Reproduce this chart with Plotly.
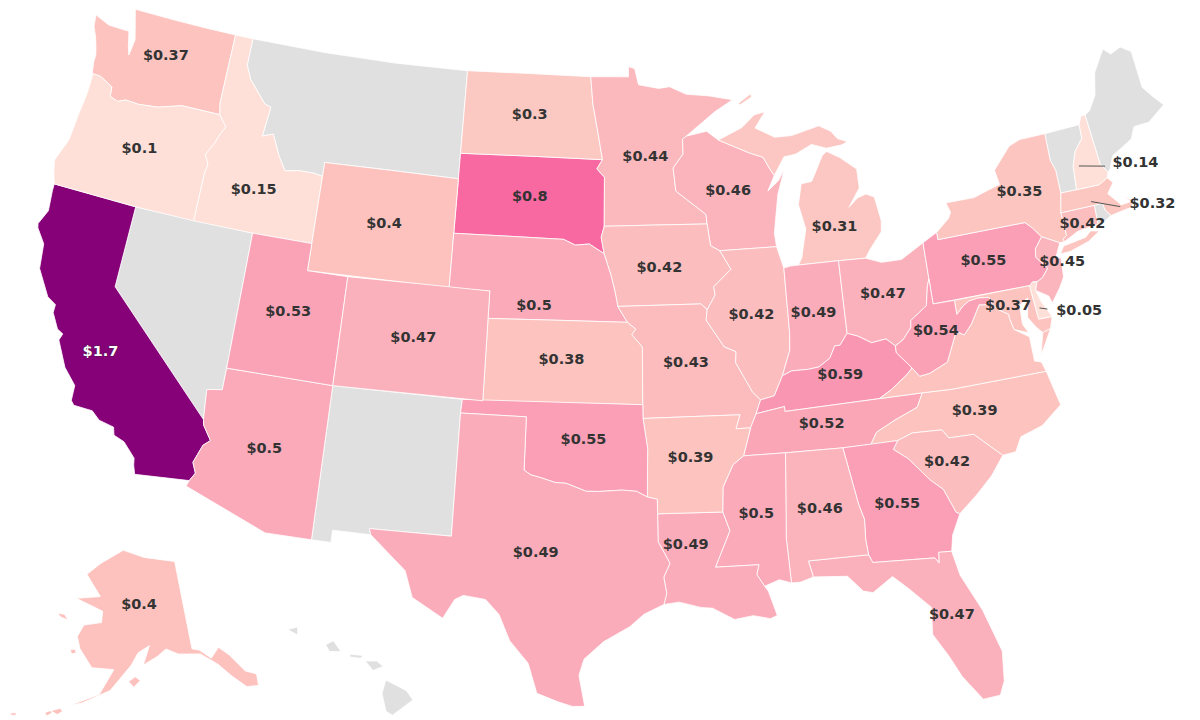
import plotly.graph_objects as go

states = ["CA","SD","WA","OR","ID","WY","ND","MN","WI","MI","IA","NE","KS","MO","IL","IN","OH","KY","TN","NC","SC","GA","FL","AL","MS","LA","AR","OK","TX","AZ","UT","CO","PA","NY","MD","VA","WV","DE","NJ","CT","MA","NH","AK"]
values = [1.7,0.8,0.37,0.1,0.15,0.4,0.3,0.44,0.46,0.31,0.42,0.5,0.38,0.43,0.42,0.49,0.47,0.59,0.52,0.39,0.42,0.55,0.47,0.46,0.5,0.49,0.39,0.55,0.49,0.5,0.53,0.47,0.55,0.35,0.37,0.37,0.54,0.05,0.45,0.42,0.32,0.14,0.4]
unlabelled = ["VA"]
no_data = ["MT","NV","NM","VT","ME","RI","HI"]

# state outlines, longitude / latitude
N = None
shapes = {
"WA":[(-124.73,48.38),(-123.9,48.16),(-123.1,48.15),(-122.75,48.15),(-122.55,47.6),(-122.4,47.3),(-122.3,47.9),(-122.5,48.4),(-122.75,49),(-120.5,49),(-118.5,49),(-117.03,49),(-117.04,46.42),(-116.92,46),(-118.98,46),(-119.3,45.93),(-120.2,45.73),(-121.2,45.65),(-121.9,45.68),(-122.3,45.55),(-122.75,45.65),(-122.8,46),(-123.2,46.15),(-123.55,46.26),(-124,46.27),(-124.1,46.7),(-124.1,46.95),(-124.2,47.2),(-124.4,47.6),(-124.65,47.95)],
"OR":[(-124,46.27),(-123.55,46.26),(-123.2,46.15),(-122.8,46),(-122.75,45.65),(-122.3,45.55),(-121.9,45.68),(-121.2,45.65),(-120.2,45.73),(-119.3,45.93),(-118.98,46),(-116.92,46),(-116.46,45.6),(-116.67,45.32),(-116.85,44.95),(-117.2,44.45),(-117.03,44.25),(-116.95,44.1),(-117.03,43.8),(-117.03,42),(-120,42),(-124.21,42),(-124.4,42.4),(-124.55,42.84),(-124.15,43.7),(-124.06,44.7),(-123.95,45.5),(-123.95,46.2)],
"CA":[(-124.21,42),(-120,42),(-120,39),(-114.63,35),(-114.57,34.8),(-114.14,34.3),(-114.43,34.08),(-114.72,33.4),(-114.52,33.03),(-114.72,32.72),(-117.12,32.53),(-117.25,32.85),(-117.3,33.1),(-117.9,33.6),(-118.4,33.75),(-118.5,34.03),(-119.2,34.15),(-119.6,34.42),(-120.47,34.45),(-120.63,34.6),(-120.65,35.15),(-121.3,35.7),(-121.9,36.6),(-121.8,36.85),(-122.1,36.97),(-122.5,37.5),(-122.5,37.8),(-122.95,38),(-123.7,38.9),(-123.85,39.8),(-124.35,40.3),(-124.4,40.45),(-124.1,41),(-124.2,41.75)],
"NV":[(-120,42),(-114.04,42),(-114.04,37),(-114.05,36.2),(-114.75,36.1),(-114.63,35),(-120,39)],
"ID":[(-117.03,49),(-116.05,49),(-116.05,48),(-115.7,47.5),(-114.7,46.73),(-114.35,46.65),(-114.5,45.55),(-113.95,45.7),(-113.45,44.95),(-113,44.45),(-112.3,44.55),(-111.5,44.55),(-111.05,44.48),(-111.05,42),(-114.04,42),(-117.03,42),(-117.03,43.8),(-116.95,44.1),(-117.03,44.25),(-117.2,44.45),(-116.85,44.95),(-116.67,45.32),(-116.46,45.6),(-116.92,46),(-117.04,46.42)],
"MT":[(-116.05,49),(-112,49),(-108,49),(-104.05,49),(-104.05,45),(-111.05,45),(-111.05,44.48),(-111.5,44.55),(-112.3,44.55),(-113,44.45),(-113.45,44.95),(-113.95,45.7),(-114.5,45.55),(-114.35,46.65),(-114.7,46.73),(-115.7,47.5),(-116.05,48)],
"WY":[(-111.05,45),(-104.05,45),(-104.05,41),(-111.05,41)],
"UT":[(-114.04,42),(-111.05,42),(-111.05,41),(-109.05,41),(-109.05,37),(-114.04,37)],
"CO":[(-109.05,41),(-102.05,41),(-102.05,37),(-109.05,37)],
"AZ":[(-114.04,37),(-109.05,37),(-109.05,31.33),(-111.07,31.33),(-114.81,32.5),(-114.72,32.72),(-114.52,33.03),(-114.72,33.4),(-114.43,34.08),(-114.14,34.3),(-114.57,34.8),(-114.63,35),(-114.75,36.1),(-114.05,36.2)],
"NM":[(-109.05,37),(-103,37),(-103.04,36.5),(-103.04,32),(-106.62,32),(-106.53,31.78),(-108.2,31.78),(-108.2,31.33),(-109.05,31.33)],
"TX":[(-103.04,36.5),(-100,36.5),(-100,34.56),(-99.7,34.4),(-99.2,34.3),(-98.6,34.15),(-98.1,34.13),(-97.2,33.85),(-96.6,33.85),(-95.6,33.9),(-94.95,33.85),(-94.48,33.64),(-94.04,33.55),(-94.04,33.02),(-94.04,32),(-93.55,31.2),(-93.83,30.7),(-93.72,30.1),(-93.85,29.7),(-94.7,29.35),(-95.3,28.9),(-96.4,28.35),(-97.2,27.7),(-97.4,27.1),(-97.15,25.96),(-97.65,25.95),(-98.2,26.1),(-99.1,26.4),(-99.5,27.5),(-100.3,28.3),(-100.8,29.25),(-101.4,29.77),(-102.35,29.87),(-102.7,29.7),(-103.15,28.98),(-104.5,29.65),(-104.9,30.6),(-106.53,31.78),(-106.62,32),(-103.04,32)],
"OK":[(-103,37),(-94.62,37),(-94.62,36.5),(-94.43,35.4),(-94.48,33.64),(-94.95,33.85),(-95.6,33.9),(-96.6,33.85),(-97.2,33.85),(-98.1,34.13),(-98.6,34.15),(-99.2,34.3),(-99.7,34.4),(-100,34.56),(-100,36.5),(-103.04,36.5)],
"KS":[(-102.05,40),(-95.31,40),(-94.9,39.75),(-95.1,39.55),(-94.6,39.1),(-94.62,37),(-102.05,37)],
"NE":[(-104.05,43),(-98.5,43),(-97.9,42.8),(-97.2,42.85),(-96.45,42.5),(-96.1,41.7),(-95.9,41.1),(-95.77,40.58),(-95.31,40),(-102.05,40),(-102.05,41),(-104.05,41)],
"SD":[(-104.05,45.94),(-96.56,45.94),(-96.85,45.6),(-96.45,45.3),(-96.45,43.5),(-96.6,43.1),(-96.45,42.5),(-97.2,42.85),(-97.9,42.8),(-98.5,43),(-104.05,43)],
"ND":[(-104.05,49),(-97.23,49),(-97.1,48),(-96.8,46.9),(-96.56,45.94),(-104.05,45.94)],
"MN":[(-97.23,49),(-95.15,49),(-95.15,49.38),(-94.8,49.3),(-94.6,48.7),(-93.5,48.55),(-92.9,48.6),(-92,48.3),(-90.8,48.2),(-89.5,48),(-90.5,47.6),(-92.1,46.75),(-92.3,46.65),(-92.3,46.1),(-92.85,45.6),(-92.75,44.75),(-91.25,43.85),(-91.22,43.5),(-96.45,43.5),(-96.45,45.3),(-96.85,45.6),(-96.56,45.94),(-96.8,46.9),(-97.1,48)],
"IA":[(-96.45,43.5),(-91.22,43.5),(-91.1,42.7),(-90.65,42.5),(-90.15,41.8),(-91.05,41.2),(-91,40.9),(-91.42,40.38),(-91.72,40.6),(-95.77,40.58),(-95.9,41.1),(-96.1,41.7),(-96.45,42.5),(-96.6,43.1)],
"MO":[(-95.77,40.58),(-91.72,40.6),(-91.42,40.38),(-91.5,40),(-90.7,39),(-90.15,38.8),(-90.2,38.4),(-89.5,37.3),(-89.15,36.99),(-89.4,36.5),(-89.7,36),(-90.37,36),(-90.15,36.5),(-94.62,36.5),(-94.62,37),(-94.6,39.1),(-95.1,39.55),(-94.9,39.75),(-95.31,40)],
"AR":[(-94.62,36.5),(-90.15,36.5),(-90.37,36),(-89.7,36),(-90.1,35),(-90.6,34.7),(-91.1,33.9),(-91.17,33),(-94.04,33.02),(-94.04,33.55),(-94.48,33.64),(-94.43,35.4)],
"LA":[(-94.04,33.02),(-91.17,33),(-90.9,32.3),(-91.6,31),(-89.73,31),(-89.85,30.65),(-89.55,30.2),(-89.4,30),(-89.3,29.7),(-89.1,29.1),(-89.4,29),(-90.1,29.15),(-90.9,29.05),(-91.8,29.5),(-92.3,29.55),(-93.2,29.77),(-93.85,29.7),(-93.72,30.1),(-93.83,30.7),(-93.55,31.2),(-94.04,32)],
"MS":[(-90.1,35),(-88.2,35),(-88.47,31.9),(-88.4,30.25),(-88.9,30.4),(-89.55,30.2),(-89.85,30.65),(-89.73,31),(-91.6,31),(-90.9,32.3),(-91.17,33),(-91.1,33.9),(-90.6,34.7)],
"AL":[(-88.2,35),(-85.6,34.98),(-85.18,32.87),(-85,32.3),(-85.05,31.55),(-85,31),(-87.6,31),(-87.45,30.4),(-88,30.25),(-88.4,30.25),(-88.47,31.9)],
"TN":[(-90.1,35),(-88.2,35),(-85.6,34.98),(-84.32,34.99),(-84,35.4),(-83.1,35.75),(-82,36.1),(-81.68,36.59),(-83.68,36.6),(-88.07,36.5),(-88.07,36.68),(-89.4,36.5),(-89.7,36)],
"KY":[(-89.4,36.5),(-88.07,36.68),(-88.07,36.5),(-83.68,36.6),(-83.1,36.85),(-82.3,37.3),(-81.97,37.54),(-82.6,38.17),(-82.6,38.42),(-83,38.72),(-83.7,38.65),(-84.3,38.95),(-84.8,39.1),(-85.2,38.7),(-85.45,38.7),(-85.75,38.27),(-86.3,38),(-86.8,37.95),(-87.6,37.95),(-88.05,37.8),(-88.5,37.1),(-89.15,36.99)],
"IL":[(-90.65,42.5),(-87.8,42.5),(-87.53,41.7),(-87.53,39.35),(-87.6,38.7),(-88.05,37.8),(-88.5,37.1),(-89.15,36.99),(-89.5,37.3),(-90.2,38.4),(-90.15,38.8),(-90.7,39),(-91.5,40),(-91.42,40.38),(-91,40.9),(-91.05,41.2),(-90.15,41.8)],
"IN":[(-87.53,41.7),(-87.2,41.75),(-86.8,41.76),(-84.8,41.76),(-84.8,39.1),(-85.2,38.7),(-85.45,38.7),(-85.75,38.27),(-86.3,38),(-86.8,37.95),(-87.6,37.95),(-88.05,37.8),(-87.6,38.7),(-87.53,39.35)],
"OH":[(-84.8,41.76),(-83.45,41.73),(-82.7,41.5),(-81.7,41.5),(-80.52,41.98),(-80.52,40.64),(-80.65,40.4),(-80.85,39.7),(-81.7,39.25),(-81.75,39),(-82.2,38.6),(-82.6,38.42),(-83,38.72),(-83.7,38.65),(-84.3,38.95),(-84.8,39.1)],
"WV":[(-82.6,38.42),(-82.2,38.6),(-81.75,39),(-81.7,39.25),(-80.85,39.7),(-80.65,40.4),(-80.52,40.64),(-80.52,39.72),(-79.48,39.72),(-79.48,39.2),(-79.1,39.47),(-78.8,39.6),(-78.35,39.65),(-77.83,39.6),(-77.72,39.32),(-78.35,39.4),(-78.87,38.77),(-79.3,38.42),(-79.65,38.6),(-80.3,37.55),(-81.2,37.25),(-81.68,37.2),(-81.97,37.54),(-82.6,38.17)],
"VA":[(-83.68,36.6),(-81.68,36.59),(-80.3,36.55),(-75.87,36.55),(-76,36.92),(-76.3,37),(-76.3,37.9),(-76.95,38.28),(-77.05,38.7),(-77.05,38.85),(-77.5,39.1),(-77.72,39.32),(-78.35,39.4),(-78.87,38.77),(-79.3,38.42),(-79.65,38.6),(-80.3,37.55),(-81.2,37.25),(-81.68,37.2),(-81.97,37.54),(-82.3,37.3),(-83.1,36.85),N,(-75.95,37.15),(-75.65,37.95),(-75.25,38.03)],
"MD":[(-79.48,39.72),(-75.79,39.72),(-75.7,38.46),(-75.05,38.45),(-75.25,38.03),(-75.65,37.95),(-75.9,38.2),(-76.2,38.6),(-76,39.3),(-76.45,39.1),(-76.5,38.4),(-76.3,38.05),(-76.95,38.28),(-77.05,38.7),(-77.05,38.85),(-77.5,39.1),(-77.72,39.32),(-77.83,39.6),(-78.35,39.65),(-78.8,39.6),(-79.1,39.47),(-79.48,39.2)],
"DE":[(-75.79,39.72),(-75.6,39.83),(-75.4,39.8),(-75.55,39.5),(-75.4,39.05),(-75.05,38.45),(-75.7,38.46)],
"PA":[(-80.52,41.98),(-79.76,42.27),(-79.76,42),(-75.35,42),(-75.05,41.75),(-74.7,41.36),(-75.13,40.98),(-75.2,40.68),(-74.75,40.2),(-75.1,39.9),(-75.4,39.8),(-75.6,39.83),(-75.79,39.72),(-80.52,39.72)],
"NJ":[(-74.7,41.36),(-73.9,41),(-74.25,40.5),(-74,40.45),(-74.1,39.75),(-74.4,39.4),(-74.9,38.93),(-75,39.2),(-75.55,39.5),(-75.4,39.8),(-75.1,39.9),(-74.75,40.2),(-75.2,40.68),(-75.13,40.98)],
"NY":[(-79.76,42.27),(-79.05,42.7),(-78.9,42.9),(-79.05,43.27),(-77.6,43.27),(-76.5,43.5),(-76.2,43.55),(-76.3,44.1),(-75.3,44.85),(-74.7,45),(-73.35,45),(-73.4,44),(-73.25,43.6),(-73.27,42.75),(-73.5,42.05),(-73.49,41.2),(-73.7,41.1),(-73.65,41),(-73.9,41),(-74.7,41.36),(-75.05,41.75),(-75.35,42),(-79.76,42),N,(-74,40.6),(-73.75,40.85),(-72.6,40.97),(-72.3,41.15),(-71.87,41.07),(-72.5,40.8),(-73.5,40.6)],
"CT":[(-73.5,42.05),(-71.8,42.02),(-71.85,41.32),(-72.9,41.25),(-73.65,41),(-73.7,41.1),(-73.49,41.2)],
"RI":[(-71.8,42.02),(-71.38,42.02),(-71.33,41.75),(-71.12,41.5),(-71.5,41.37),(-71.85,41.32)],
"MA":[(-73.5,42.05),(-73.27,42.75),(-72.46,42.73),(-71.3,42.7),(-70.82,42.87),(-70.6,42.65),(-71,42.3),(-70.65,41.95),(-70.5,41.78),(-70,41.8),(-70.25,42.07),(-69.95,41.85),(-70,41.6),(-70.65,41.55),(-71.12,41.5),(-71.33,41.75),(-71.38,42.02),(-71.8,42.02)],
"VT":[(-73.35,45),(-71.5,45.01),(-71.55,44.5),(-72.05,44.1),(-72.33,43.6),(-72.46,42.73),(-73.27,42.75),(-73.25,43.6),(-73.4,44)],
"NH":[(-71.5,45.01),(-71.3,45.3),(-71.08,45.3),(-70.98,43.4),(-70.7,43.07),(-70.82,42.87),(-71.3,42.7),(-72.46,42.73),(-72.33,43.6),(-72.05,44.1),(-71.55,44.5)],
"ME":[(-71.08,45.3),(-70.8,45.4),(-70.3,45.9),(-70,46.7),(-69.23,47.46),(-68.9,47.2),(-68.3,47.35),(-67.8,47.07),(-67.8,45.7),(-67.45,45.3),(-67,44.85),(-68,44.4),(-68.8,44.4),(-69.1,44),(-69.8,43.75),(-70.25,43.6),(-70.6,43.1),(-70.7,43.07),(-70.98,43.4)],
"MI":[(-86.8,41.76),(-84.8,41.76),(-83.45,41.73),(-83.15,42.05),(-82.5,42.6),(-82.42,43),(-82.6,43.9),(-83,44.05),(-83.45,43.95),(-83.95,43.65),(-83.3,44.3),(-83.3,45),(-84.1,45.5),(-84.75,45.78),(-85,45.65),(-85.5,45),(-85.7,44.75),(-86.25,44.7),(-86.5,43.95),(-86.25,43.05),(-86.6,42),N,(-90.4,46.55),(-89.1,46.95),(-88.4,47.38),(-87.8,47.47),(-88.4,46.9),(-87.4,46.5),(-86.5,46.5),(-85,46.75),(-84.4,46.5),(-84.1,46.2),(-83.6,46.05),(-83.9,45.95),(-84.75,45.9),(-85.5,46.1),(-86.4,45.8),(-87,45.75),(-87.6,45.1),(-87.8,45.35),(-88.1,45.8),(-88.8,46),N,(-89.2,47.85),(-88.5,48.17),(-88.45,48.05),(-89.1,47.8)],
"WI":[(-92.1,46.75),(-91,46.9),(-90.4,46.55),(-88.8,46),(-88.1,45.8),(-87.8,45.35),(-87.6,45.1),(-88,44.55),(-87.4,44.9),(-87.05,45.3),(-87.5,44.4),(-87.85,43),(-87.8,42.5),(-90.65,42.5),(-91.1,42.7),(-91.22,43.5),(-91.25,43.85),(-92.75,44.75),(-92.85,45.6),(-92.3,46.1),(-92.3,46.65)],
"FL":[(-87.6,31),(-85,31),(-84.86,30.7),(-82.2,30.57),(-82.05,30.36),(-82,30.75),(-81.45,30.72),(-81.25,29.8),(-80.55,28.4),(-80.03,26.8),(-80.15,25.7),(-80.4,25.2),(-81.1,25.15),(-81.8,26.1),(-82.2,26.9),(-82.75,27.8),(-82.65,28.8),(-83.5,29.6),(-84.1,30.1),(-85,29.6),(-85.4,29.7),(-86,30.3),(-87.45,30.4)],
"GA":[(-85.6,34.98),(-83.1,35),(-83.35,34.7),(-82.75,34.3),(-81.9,33.4),(-81.4,33),(-81,32.1),(-80.85,32.03),(-81.3,31.3),(-81.45,30.72),(-82,30.75),(-82.05,30.36),(-82.2,30.57),(-84.86,30.7),(-85,31),(-85.05,31.55),(-85,32.3),(-85.18,32.87)],
"SC":[(-83.1,35),(-82.4,35.2),(-81.05,35.15),(-80.8,34.82),(-79.67,34.8),(-78.55,33.86),(-79.2,33.2),(-80,32.6),(-80.85,32.03),(-81,32.1),(-81.4,33),(-81.9,33.4),(-82.75,34.3),(-83.35,34.7)],
"NC":[(-84.32,34.99),(-83.1,35),(-82.4,35.2),(-81.05,35.15),(-80.8,34.82),(-79.67,34.8),(-78.55,33.86),(-77.95,33.9),(-77.6,34.4),(-76.55,34.65),(-75.55,35.25),(-75.87,36.55),(-80.3,36.55),(-81.68,36.59),(-82,36.1),(-83.1,35.75),(-84,35.4)],
"AK":[(-141,69.65),(-141,60.3),(-139.5,60),(-137.5,58.9),(-135.5,59.8),(-133.8,58.7),(-131.8,56.6),(-130,55.9),(-130.4,54.7),(-132.5,55),(-134.5,56.5),(-136.5,58.1),(-139.5,59.6),(-144,60),(-146.5,60.7),(-148.5,60),(-151.5,59.2),(-150,61.2),(-152.5,60.5),(-154,59.2),(-158,56.5),(-163,54.9),(-165,54.5),(-160,56),(-157.5,58.7),(-162,58.7),(-165,60.5),(-166,61.7),(-165,63),(-161,63.5),(-161,64.7),(-168,65.6),(-162,66.2),(-166.5,68.3),(-163,69.7),(-156.5,71.3),(-150,70.5),N,(-154.5,57.5),(-153.2,58),(-152.2,57.6),(-153.5,56.9),N,(-167,60.2),(-166,60.35),(-165.6,60),(-166.5,59.8),N,(-171.7,63.6),(-170,63.7),(-168.8,63.2),(-170.5,63.3),N,(-168.3,53.5),(-166.7,54),(-166.2,53.7),(-167,53.3),N,(-169.2,53.2),(-168.2,53.6),(-168,53.3),(-168.8,52.9),N,(-174.9,52.2),(-174,52.4),(-173.9,52.1),(-174.8,52)],
"HI":[(-155.9,20.25),(-155.1,19.85),(-154.85,19.5),(-155.65,18.95),(-155.9,19.1),(-156.05,19.75),N,(-156.7,20.95),(-156.25,20.95),(-156,20.75),(-156.4,20.6),N,(-157.3,21.2),(-156.75,21.15),(-156.9,21.05),(-157.3,21.1),N,(-158.25,21.55),(-157.95,21.7),(-157.65,21.3),(-158.1,21.3),N,(-159.75,22.1),(-159.35,22.2),(-159.35,21.9)],
}

# label anchors, longitude / latitude
label_lon = {"CA":-119.9,"SD":-100.3,"WA":-120.45,"OR":-120.55,"ID":-114.4,"WY":-107.6,"ND":-100.5,"MN":-94.3,"WI":-90.05,"MI":-84.8,"IA":-93.7,"NE":-99.85,"KS":-98.45,"MO":-92.55,"IL":-89.3,"IN":-86.3,"OH":-82.85,"KY":-85.35,"TN":-86.45,"NC":-79.45,"SC":-81.05,"GA":-83.5,"FL":-81.85,"AL":-86.9,"MS":-89.7,"LA":-92.85,"AR":-92.5,"OK":-97.35,"TX":-99.35,"AZ":-111.7,"UT":-111.65,"CO":-105.55,"PA":-77.75,"NY":-75.3,"MD":-77.0,"WV":-80.6,"DE":-73.75,"NJ":-74.0,"CT":-72.6,"MA":-69.0,"NH":-69.25,"AK":-152}
label_lat = {"CA":36.56,"SD":44.5,"WA":47.6,"OR":44.05,"ID":43.55,"WY":43.07,"ND":47.5,"MN":46.0,"WI":44.65,"MI":43.0,"IA":41.95,"NE":40.53,"KS":38.6,"MO":38.45,"IL":40.08,"IN":39.95,"OH":40.35,"KY":37.6,"TN":35.9,"NC":35.6,"SC":33.95,"GA":32.7,"FL":28.4,"AL":32.85,"MS":32.85,"LA":31.85,"AR":35.0,"OK":35.7,"TX":31.55,"AZ":34.35,"UT":39.4,"CO":39.05,"PA":40.92,"NY":43.1,"MD":39.15,"WV":38.72,"DE":38.42,"NJ":40.3,"CT":41.45,"MA":41.5,"NH":43.1,"AK":65.5}

# leader lines from a state to its outside label
leader_lon = [-72.05,-70.77,-71.9,-70.57,-75.55,-75.2]
leader_lat = [43.55,43.3,42.18,41.73,38.85,38.75]

stops = [(0.0,(254,224,216)),(0.15,(254,224,216)),(0.3,(252,200,194)),(0.4,(253,194,190)),(0.45,(251,182,189)),(0.5,(251,170,185)),(0.6,(249,148,177)),(0.8,(248,104,161)),(1.7,(134,0,120))]
def colour(v):
    for (a,ca),(b,cb) in zip(stops,stops[1:]):
        if v<=b:
            t=(v-a)/(b-a)
            return "rgb(%d,%d,%d)"%tuple(round(x+(y-x)*t) for x,y in zip(ca,cb))
    return "rgb(134,0,120)"

def rings(pts):
    ring=[]
    for p in pts+[None]:
        if p is None:
            yield ring
            ring=[]
        else:
            ring.append(p)

def clockwise(ring):
    area=sum(a[0]*b[1]-b[0]*a[1] for a,b in zip(ring,ring[1:]+ring[:1]))
    return ring if area<0 else ring[::-1]

def add_state(fig, code, fill):
    lon=[];lat=[]
    for ring in rings(shapes[code]):
        ring=clockwise(ring)
        ring=ring+ring[:1]
        lon += [p[0] for p in ring]+[None]
        lat += [p[1] for p in ring]+[None]
    fig.add_trace(go.Scattergeo(lon=lon[:-1], lat=lat[:-1], mode="lines", fill="toself", fillcolor=fill,
        line=dict(color="white", width=0.8), hoverinfo="skip", showlegend=False))

fig = go.Figure()
for c in no_data:
    add_state(fig, c, "#e0e0e0")
for c,v in zip(states, values):
    add_state(fig, c, colour(v))
fig.add_trace(go.Scattergeo(lon=leader_lon[:2]+[None]+leader_lon[2:4]+[None]+leader_lon[4:], lat=leader_lat[:2]+[None]+leader_lat[2:4]+[None]+leader_lat[4:],
    mode="lines", line=dict(color="#555555", width=1), hoverinfo="skip", showlegend=False))
dark=[c for c in states if c!="CA" and c not in unlabelled]
fig.add_trace(go.Scattergeo(lon=[label_lon[c] for c in dark], lat=[label_lat[c] for c in dark],
    text=["$%g"%values[states.index(c)] for c in dark], mode="text",
    textfont=dict(family="DejaVu Sans", size=14.5, color="#333333", weight="bold"), hoverinfo="skip", showlegend=False))
fig.add_trace(go.Scattergeo(lon=[label_lon["CA"]], lat=[label_lat["CA"]], text=["$1.7"], mode="text",
    textfont=dict(family="DejaVu Sans", size=14.5, color="white", weight="bold", shadow="0 0 2px #333"), hoverinfo="skip", showlegend=False))

fig.update_layout(width=1378, height=720, margin=dict(l=0,r=0,t=0,b=0), paper_bgcolor="white",
    geo=dict(scope="usa", projection_type="albers usa", projection_scale=1.032, showland=False, showlakes=False, showcountries=False,
             showsubunits=False, showcoastlines=False, showframe=False, bgcolor="white",
             center=dict(lon=-92.4,lat=38.58),
             domain=dict(x=[0,1],y=[0,1])))
fig.write_html("out.html", config=dict(displayModeBar=False),
    post_script="document.body.style.margin='0';document.body.style.overflow='hidden';document.documentElement.style.overflow='hidden';")
